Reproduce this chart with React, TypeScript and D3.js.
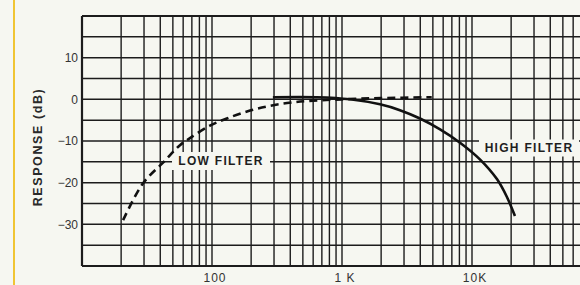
import { useEffect, useRef } from 'react';
import * as d3 from 'd3';

// Low filter curve (dashed)
const lowFreq = [20.7, 29.4, 42, 56.7, 67.7, 96.5, 130, 186, 265, 378, 538, 1000, 2000, 4900];
const lowDb = [-29, -20.2, -15.2, -11, -9.3, -6.3, -4.6, -2.9, -1.7, -0.9, -0.4, 0, 0.3, 0.5];

// High filter curve (solid)
const highFreq = [294, 643, 1153, 1960, 2790, 3980, 5680, 8090, 11500, 15600, 18600, 21400];
const highDb = [0.5, 0.5, 0, -1.2, -2.6, -4.6, -7.2, -10.4, -14.4, -19.2, -23.5, -28];

const yTicks = [10, 0, -10, -20, -30];
const xTickValues = [100, 1000, 10000];
const xTickLabels = ['100', '1 K', '10K'];

interface Pt { f: number; db: number; }

export default function App() {
    const svgRef = useRef<SVGSVGElement | null>(null);

    useEffect(() => {
        if (!svgRef.current) return;
        const svg = d3.select(svgRef.current);
        svg.selectAll('*').remove();

        const width = 580;
        const height = 285;
        const left = 82, top = 16, bottom = 266;

        const x = d3.scaleLog().domain([10, 100000]).range([left, left + 520]);
        const y = d3.scaleLinear().domain([-40, 20]).range([bottom, top]);

        svg.append('rect').attr('width', width).attr('height', height).attr('fill', '#f6f7f1');

        // yellow page edge from the scan
        svg.append('line')
            .attr('x1', 14).attr('x2', 14).attr('y1', 0).attr('y2', height)
            .attr('stroke', '#f0c534').attr('stroke-width', 2);

        const grid = svg.append('g').attr('stroke', '#1c1c1c');

        // vertical log grid
        const vLines: number[] = [];
        for (let dec = 10; dec < 100000; dec *= 10) {
            for (let k = 1; k <= 9; k++) vLines.push(dec * k);
        }
        grid.selectAll('line.v').data(vLines).join('line')
            .attr('class', 'v')
            .attr('x1', d => x(d)).attr('x2', d => x(d))
            .attr('y1', top).attr('y2', bottom)
            .attr('stroke-width', d => (d === 10 ? 2.2 : 1.4));

        // horizontal grid every 5 dB
        grid.selectAll('line.h').data(d3.range(-40, 21, 5)).join('line')
            .attr('class', 'h')
            .attr('x1', left).attr('x2', width)
            .attr('y1', d => y(d)).attr('y2', d => y(d))
            .attr('stroke-width', d => (d === -40 || d === 20 ? 2.2 : 1.5));

        // y tick labels
        svg.append('g').selectAll('text').data(yTicks).join('text')
            .attr('x', 78).attr('y', d => y(d))
            .attr('dy', '0.36em')
            .attr('text-anchor', 'end')
            .attr('font-family', 'Liberation Sans, Arial, sans-serif')
            .attr('font-size', 12)
            .attr('fill', '#333')
            .text(d => (d < 0 ? '\u2212' + Math.abs(d) : String(d)));

        // x tick labels
        svg.append('g').selectAll('text').data(xTickValues).join('text')
            .attr('x', (d) => x(d) + 3).attr('y', 282)
            .attr('text-anchor', 'middle')
            .attr('font-family', 'Liberation Sans, Arial, sans-serif')
            .attr('font-size', 12)
            .attr('letter-spacing', 1)
            .attr('fill', '#333')
            .text((_d, i) => xTickLabels[i]);

        // y axis title
        svg.append('text')
            .attr('transform', 'translate(42,147) rotate(-90)')
            .attr('text-anchor', 'middle')
            .attr('font-family', 'Liberation Sans, Arial, sans-serif')
            .attr('font-size', 12.5)
            .attr('font-weight', 'bold')
            .attr('letter-spacing', 1.6)
            .attr('fill', '#2a2a2a')
            .text('RESPONSE (dB)');

        const line = d3.line<Pt>()
            .x(d => x(d.f))
            .y(d => y(d.db))
            .curve(d3.curveCatmullRom.alpha(0.5));

        const low: Pt[] = lowFreq.map((f, i) => ({ f, db: lowDb[i] }));
        const high: Pt[] = highFreq.map((f, i) => ({ f, db: highDb[i] }));

        // curve labels with masking background
        const labels = [
            { text: 'LOW FILTER', cx: 221, cy: 161, w: 98, h: 18 },
            { text: 'HIGH FILTER', cx: 529, cy: 148, w: 100, h: 17 },
        ];
        const lg = svg.append('g');
        lg.selectAll('rect').data(labels).join('rect')
            .attr('x', d => d.cx - d.w / 2).attr('y', d => d.cy - d.h / 2)
            .attr('width', d => d.w).attr('height', d => d.h)
            .attr('fill', '#f6f7f1');
        lg.selectAll('text').data(labels).join('text')
            .attr('x', d => d.cx).attr('y', d => d.cy)
            .attr('dy', '0.36em')
            .attr('text-anchor', 'middle')
            .attr('font-family', 'Liberation Sans, Arial, sans-serif')
            .attr('font-size', 12)
            .attr('font-weight', 'bold')
            .attr('letter-spacing', 1.3)
            .attr('fill', '#1e1e1e')
            .text(d => d.text);

        svg.append('path').datum(low)
            .attr('d', line)
            .attr('fill', 'none')
            .attr('stroke', '#111')
            .attr('stroke-width', 2.6)
            .attr('stroke-dasharray', '8,5');

        svg.append('path').datum(high)
            .attr('d', line)
            .attr('fill', 'none')
            .attr('stroke', '#111')
            .attr('stroke-width', 2.6);

        return () => { svg.selectAll('*').remove(); };
    }, []);

    return (
        <div>
            <style>{'body{margin:0}'}</style>
            <svg ref={svgRef} width={580} height={285} style={{ display: 'block' }}></svg>
        </div>
    );
}
